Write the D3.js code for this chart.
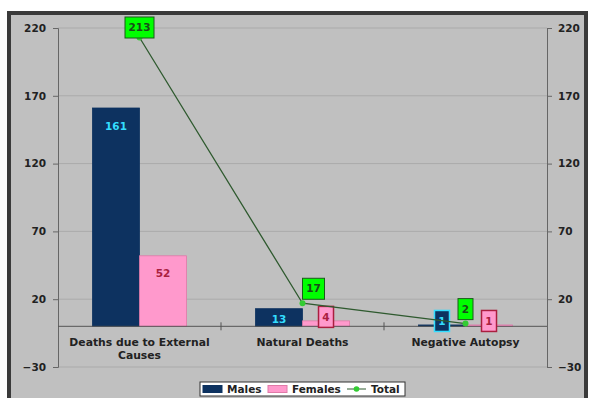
<!DOCTYPE html>
<html><head><meta charset="utf-8">
<script src="https://cdn.jsdelivr.net/npm/d3@7"></script>
<style>body{margin:0;background:#fff}svg{display:block}text{font-family:"DejaVu Sans",Verdana,sans-serif;font-weight:bold}</style>
</head><body><svg id="c" width="589" height="398"></svg>
<script>
const categories = [["Deaths due to External","Causes"],["Natural Deaths"],["Negative Autopsy"]];
const males = [161, 13, 1];
const females = [52, 4, 1];
const totals = [213, 17, 2];
const yTicks = [-30, 20, 70, 120, 170, 220];
const seriesNames = ["Males", "Females", "Total"];
const totalLabelDx = [0, 11, 0];

const svg = d3.select("#c");
const L = 58, R = 547, T = 28, B = 367;
const cats = categories.map(c => c.join(" "));

svg.append("rect").attr("x", 9).attr("y", 13).attr("width", 577).attr("height", 392)
  .attr("fill", "#c0c0c0").attr("stroke", "#3a3a3a").attr("stroke-width", 4);

const y = d3.scaleLinear().domain([-30, 220]).range([B, T]);
const x0 = d3.scaleBand().domain(cats).range([L, R]).paddingInner(0.423).paddingOuter(0.2115);
const x1 = d3.scaleBand().domain(["Males", "Females"]).range([0, x0.bandwidth()]);

// gridlines
svg.append("g").selectAll("line").data(yTicks).join("line")
  .attr("x1", L).attr("x2", R).attr("y1", d => y(d)).attr("y2", d => y(d))
  .attr("stroke", "#aaaaaa").attr("stroke-width", 1);

// axes
const axL = svg.append("g").attr("transform", `translate(${L},0)`)
  .call(d3.axisLeft(y).tickValues(yTicks).tickSize(5).tickPadding(7));
const axR = svg.append("g").attr("transform", `translate(${R},0)`)
  .call(d3.axisRight(y).tickValues(yTicks).tickSize(5).tickPadding(6));
[axL, axR].forEach(a => {
  a.select(".domain").attr("stroke", "#666");
  a.selectAll(".tick line").attr("stroke", "#666");
  a.selectAll("text").attr("font-size", 10.5).attr("fill", "#222")
    .style("font-family", '"DejaVu Sans",Verdana,sans-serif').style("font-weight", "bold");
});

// bars
const g = svg.append("g");
cats.forEach((c, i) => {
  const vals = [males[i], females[i]];
  const fills = ["#0d3260", "#ff99cc"];
  const strokes = ["#0d3260", "#e07aa8"];
  vals.forEach((v, j) => {
    const bx = x0(c) + x1(seriesNames[j]);
    g.append("rect").attr("x", bx).attr("y", y(v)).attr("width", x1.bandwidth())
      .attr("height", y(0) - y(v)).attr("fill", fills[j]).attr("stroke", strokes[j]).attr("stroke-width", 0.8);
  });
});

// zero axis line and category ticks
svg.append("line").attr("x1", L).attr("x2", R).attr("y1", y(0)).attr("y2", y(0)).attr("stroke", "#555");
const bounds = [1, 2].map(k => L + k * x0.step());
svg.append("g").selectAll("line").data(bounds).join("line")
  .attr("x1", d => d).attr("x2", d => d).attr("y1", y(0) - 4).attr("y2", y(0) + 4).attr("stroke", "#555");

// category labels
categories.forEach((lines, i) => {
  const t = svg.append("text").attr("x", x0(cats[i]) + x0.bandwidth() / 2).attr("y", y(0) + 20)
    .attr("text-anchor", "middle").attr("font-size", 10.8).attr("fill", "#222");
  lines.forEach((ln, k) => t.append("tspan").attr("x", x0(cats[i]) + x0.bandwidth() / 2).attr("dy", k ? 12.5 : 0).text(ln));
});

// bar labels
cats.forEach((c, i) => {
  const vals = [males[i], females[i]];
  const txt = ["#33ddff", "#aa1f3f"];
  const boxFill = ["#0d3260", "#ff99cc"];
  const boxStroke = ["#33ddff", "#aa1f3f"];
  vals.forEach((v, j) => {
    const cx = x0(c) + x1(seriesNames[j]) + x1.bandwidth() / 2;
    let cy = Math.min(y(v) + 18, y(0) - 7);
    if (v < 5) {
      cy = y(v) - 4;
      const s = String(v), bw = 8 + s.length * 7;
      svg.append("rect").attr("x", cx - bw / 2).attr("y", cy - 10.5).attr("width", bw).attr("height", 21)
        .attr("fill", boxFill[j]).attr("stroke", boxStroke[j]).attr("stroke-width", 1.5);
    }
    svg.append("text").attr("x", cx).attr("y", cy).attr("dy", "0.35em").attr("text-anchor", "middle")
      .attr("font-size", 10.5).attr("fill", txt[j]).text(v);
  });
});

// total line
const cx = i => x0(cats[i]) + x0.bandwidth() / 2;
const line = d3.line().x((d, i) => cx(i)).y(d => y(d));
svg.append("path").datum(totals).attr("d", line).attr("fill", "none").attr("stroke", "#2f5a2f").attr("stroke-width", 1.3);
svg.append("g").selectAll("circle").data(totals).join("circle")
  .attr("cx", (d, i) => cx(i)).attr("cy", d => y(d)).attr("r", 3).attr("fill", "#33cc33");
totals.forEach((v, i) => {
  const s = String(v), bw = 8 + s.length * 7;
  const bx = cx(i) + totalLabelDx[i];
  const by = Math.max(y(v) - 25, 17);
  svg.append("rect").attr("x", bx - bw / 2).attr("y", by).attr("width", bw).attr("height", 21)
    .attr("fill", "#00ff00").attr("stroke", "#1a5a1a").attr("stroke-width", 1);
  svg.append("text").attr("x", bx).attr("y", by + 10.5).attr("dy", "0.35em").attr("text-anchor", "middle")
    .attr("font-size", 10.5).attr("fill", "#1a4a1a").text(v);
});

// legend
const lg = svg.append("g").attr("transform", "translate(200,382)");
lg.append("rect").attr("width", 205).attr("height", 14).attr("fill", "#fff").attr("stroke", "#333");
const items = [{n: seriesNames[0], t: "bar", c: "#0d3260", x: 3}, {n: seriesNames[1], t: "bar", c: "#ff99cc", x: 68}, {n: seriesNames[2], t: "line", c: "#33cc33", x: 147}];
items.forEach(it => {
  if (it.t === "bar") {
    lg.append("rect").attr("x", it.x).attr("y", 3.5).attr("width", 19).attr("height", 7).attr("fill", it.c).attr("stroke", it.c === "#ff99cc" ? "#e07aa8" : it.c);
  } else {
    lg.append("line").attr("x1", it.x).attr("x2", it.x + 19).attr("y1", 7).attr("y2", 7).attr("stroke", "#2f5a2f");
    lg.append("circle").attr("cx", it.x + 9.5).attr("cy", 7).attr("r", 2.8).attr("fill", it.c);
  }
  lg.append("text").attr("x", it.x + 24).attr("y", 7).attr("dy", "0.35em").attr("font-size", 10.5).attr("fill", "#222").text(it.n);
});
</script></body></html>
